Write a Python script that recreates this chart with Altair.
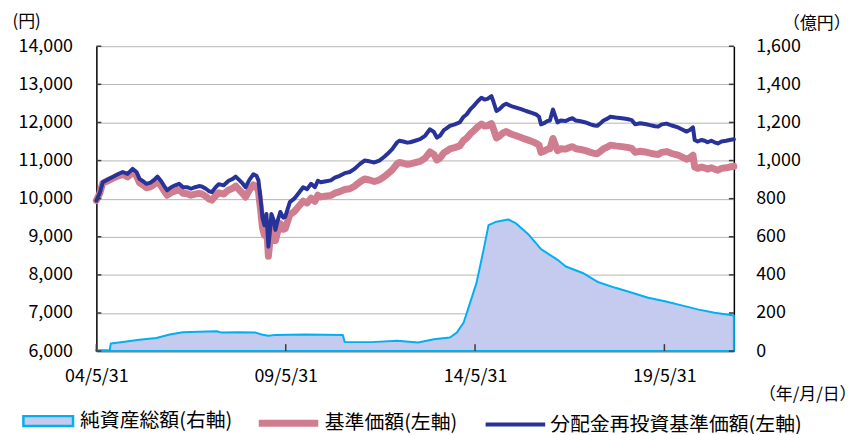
import altair as alt
import pandas as pd

# ---------------- data ----------------
series_names = ["純資産総額(右軸)", "基準価額(左軸)", "分配金再投資基準価額(左軸)"]

nav_dates = [
    "2004-05-31", "2004-07-03", "2004-08-01", "2004-09-18", "2004-11-05", "2004-12-23",
    "2005-02-09", "2005-03-28", "2005-05-15", "2005-06-22", "2005-07-20", "2005-08-28",
    "2005-09-26", "2005-11-04", "2005-12-12", "2006-01-10", "2006-02-17", "2006-03-16",
    "2006-04-14", "2006-05-22", "2006-06-30", "2006-08-07", "2006-09-15", "2006-10-23",
    "2006-11-30", "2007-01-08", "2007-02-15", "2007-03-14", "2007-04-22", "2007-05-20",
    "2007-06-18", "2007-07-26", "2007-08-24", "2007-10-11", "2007-11-28", "2008-01-06",
    "2008-02-04", "2008-03-12", "2008-04-10", "2008-05-09", "2008-06-16", "2008-07-24",
    "2008-08-22", "2008-09-10", "2008-09-30", "2008-10-19", "2008-11-07", "2008-11-26",
    "2008-12-15", "2009-01-04", "2009-01-13", "2009-02-02", "2009-02-21", "2009-03-12",
    "2009-04-09", "2009-05-07", "2009-05-26", "2009-07-10", "2009-08-21", "2009-09-28",
    "2009-11-15", "2009-12-23", "2010-01-31", "2010-03-09", "2010-04-06", "2010-05-05",
    "2010-06-12", "2010-08-09", "2010-09-16", "2010-11-03", "2010-12-21", "2011-02-08",
    "2011-03-25", "2011-05-12", "2011-06-30", "2011-08-16", "2011-10-03", "2011-11-20",
    "2012-01-07", "2012-02-05", "2012-03-23", "2012-05-10", "2012-05-30", "2012-07-07",
    "2012-08-14", "2012-09-12", "2012-10-30", "2012-12-17", "2013-02-03", "2013-03-22",
    "2013-04-29", "2013-05-28", "2013-06-26", "2013-08-03", "2013-09-01", "2013-09-30",
    "2013-11-16", "2014-01-03", "2014-02-10", "2014-03-10", "2014-04-17", "2014-05-16",
    "2014-06-24", "2014-08-01", "2014-08-30", "2014-09-28", "2014-11-05", "2014-11-24",
    "2014-12-23", "2015-01-21", "2015-02-28", "2015-03-28", "2015-05-14", "2015-07-01",
    "2015-08-18", "2015-10-05", "2015-11-22", "2016-01-09", "2016-02-07", "2016-02-26",
    "2016-03-26", "2016-04-30", "2016-05-22", "2016-06-20", "2016-07-08", "2016-08-03",
    "2016-09-04", "2016-10-22", "2016-11-20", "2016-12-25", "2017-01-27", "2017-03-14",
    "2017-05-01", "2017-06-18", "2017-07-26", "2017-08-21", "2017-09-22", "2017-10-21",
    "2017-11-28", "2017-12-27", "2018-02-13", "2018-04-17", "2018-06-06", "2018-07-21",
    "2018-08-22", "2018-10-09", "2018-11-26", "2019-01-13", "2019-03-01", "2019-04-01",
    "2019-05-06", "2019-06-21", "2019-08-10", "2019-10-10", "2019-11-14", "2019-12-30",
    "2020-01-31", "2020-03-02", "2020-03-18", "2020-04-16", "2020-05-24", "2020-06-22",
    "2020-07-20", "2020-08-25", "2020-09-26", "2020-10-28", "2020-12-02", "2021-01-16",
    "2021-02-17", "2021-03-31",
]

reinvest_nav = [
    9950, 10150, 10430, 10500, 10570, 10640,
    10700, 10650, 10780, 10700, 10520, 10450,
    10390, 10420, 10500, 10580, 10450, 10330,
    10220, 10300, 10350, 10390, 10300, 10300,
    10260, 10300, 10330, 10320, 10260, 10200,
    10170, 10300, 10380, 10350, 10470, 10520,
    10580, 10480, 10400, 10300, 10500, 10640,
    10600, 10480, 10000, 9500, 9300, 9600,
    8740, 9300, 9600, 9450, 9180, 9400,
    9650, 9500, 9520, 9910, 10000, 10130,
    10300, 10250, 10390, 10300, 10470, 10430,
    10450, 10480, 10550, 10600, 10670, 10700,
    10780, 10900, 11000, 10980, 10950, 11000,
    11100, 11170, 11300, 11480, 11520, 11500,
    11470, 11480, 11520, 11560, 11650, 11820,
    11750, 11600, 11650, 11800, 11850, 11910,
    11950, 12000, 12150, 12210, 12350, 12430,
    12550, 12650, 12600, 12620, 12690, 12550,
    12300, 12350, 12450, 12490, 12430, 12390,
    12350, 12300, 12260, 12210, 12150, 11950,
    11980, 12040, 12050, 12340, 12200, 12000,
    12050, 12040, 12080, 12110, 12050, 12030,
    12000, 11950, 11920, 11910, 11980, 12050,
    12100, 12150, 12130, 12110, 12090, 12060,
    11950, 11980, 11960, 11930, 11900, 11890,
    11950, 11970, 11920, 11870, 11820, 11760,
    11800, 11870, 11540, 11500, 11540, 11520,
    11480, 11520, 11480, 11450, 11500, 11520,
    11540, 11560,
]

nav = [
    9950, 10140, 10410, 10470, 10530, 10590,
    10640, 10570, 10690, 10600, 10420, 10350,
    10285, 10310, 10380, 10460, 10320, 10200,
    10090, 10160, 10200, 10235, 10140, 10130,
    10090, 10120, 10140, 10125, 10060, 9995,
    9960, 10080, 10155, 10120, 10230, 10270,
    10330, 10220, 10140, 10040, 10230, 10360,
    10315, 10195, 9725, 9235, 9035, 9325,
    8485, 9025, 9315, 9165, 8900, 9110,
    9345, 9195, 9210, 9580, 9660, 9780,
    9935, 9885, 10015, 9930, 10090, 10045,
    10065, 10085, 10145, 10185, 10240, 10260,
    10325, 10430, 10515, 10490, 10450, 10490,
    10580, 10640, 10755, 10915, 10950, 10930,
    10900, 10910, 10945, 10980, 11065, 11225,
    11160, 11015, 11060, 11205, 11250, 11305,
    11340, 11385, 11530, 11585, 11705, 11775,
    11880, 11960, 11905, 11915, 11970, 11835,
    11595, 11640, 11730, 11760, 11695, 11650,
    11605, 11555, 11510, 11455, 11405, 11215,
    11245, 11300, 11310, 11580, 11450, 11260,
    11310, 11300, 11335, 11365, 11310, 11290,
    11260, 11215, 11185, 11180, 11245, 11310,
    11355, 11405, 11385, 11365, 11345, 11320,
    11215, 11245, 11225, 11195, 11170, 11160,
    11215, 11235, 11185, 11140, 11095, 11035,
    11075, 11140, 10830, 10795, 10830, 10810,
    10775, 10810, 10775, 10745, 10795, 10810,
    10830, 10850,
]

asset_dates = [
    "2004-05-31", "2004-10-07", "2004-10-17", "2005-02-09", "2005-07-20", "2005-12-31",
    "2006-05-08", "2006-09-10", "2007-02-15", "2007-08-05", "2007-09-22", "2008-03-03",
    "2008-08-13", "2008-10-10", "2008-12-15", "2009-02-21", "2009-12-04", "2010-12-02",
    "2010-12-21", "2011-09-05", "2012-05-10", "2012-11-28", "2013-04-29", "2013-09-30",
    "2013-12-06", "2014-02-10", "2014-04-08", "2014-06-14", "2014-08-21", "2014-10-08",
    "2014-12-23", "2015-04-16", "2015-07-01", "2015-11-03", "2016-02-26", "2016-08-04",
    "2016-10-22", "2017-04-03", "2017-09-03", "2018-02-13", "2018-07-24", "2018-12-25",
    "2019-06-05", "2019-11-14", "2020-04-16", "2020-09-26", "2021-03-31",
]

net_assets = [
    5, 5, 40, 48, 59, 69,
    87, 99, 101, 104, 97, 99,
    97, 87, 80, 85, 87, 85,
    48, 47, 54, 45, 62, 71,
    97, 150, 245, 358, 531, 661,
    679, 691, 670, 609, 535, 479,
    444, 410, 361, 332, 306, 280,
    262, 240, 219, 201, 187,
]

x_tick_dates = ["2004-05-31", "2009-05-31", "2014-05-31", "2019-05-31"]
x_domain = ["2004-05-31", "2021-03-31"]
left_ticks = [6000, 7000, 8000, 9000, 10000, 11000, 12000, 13000, 14000]
right_ticks = [0, 200, 400, 600, 800, 1000, 1200, 1400, 1600]

# ---------------- tables ----------------
df_assets = pd.DataFrame({"date": pd.to_datetime(asset_dates), "value": net_assets,
                          "series": series_names[0]})
df_nav = pd.DataFrame({"date": pd.to_datetime(nav_dates), "value": nav,
                       "series": series_names[1]})
df_re = pd.DataFrame({"date": pd.to_datetime(nav_dates), "value": reinvest_nav,
                      "series": series_names[2]})
df_xt = pd.DataFrame({"date": pd.to_datetime(x_tick_dates)})
df_lt = pd.DataFrame({"value": left_ticks})
df_rt = pd.DataFrame({"value": right_ticks})

# ---------------- styling ----------------
W, H = 642, 307
FONT = "Noto Sans CJK JP"
PINK = "#d07d8f"
NAVY = "#28339a"
AREA_FILL = "#c5cbee"
AREA_LINE = "#00b0f0"
GRID = "#b4b4b4"
AREA_SYM = 625   # 50 x 10 px rectangle path below
LINE_SYM = 900   # 60 px line path below
LEGEND_MID = 376  # legend row centre, measured from the plot top


def dt(s):
    t = pd.Timestamp(s)
    return alt.DateTime(year=t.year, month=t.month, date=t.day)


x_scale = alt.Scale(domain=[dt(d) for d in x_domain])
x_axis = alt.Axis(
    values=[dt(d) for d in x_tick_dates], format="%y/%-m/%d",
    labelFont=FONT, labelFontSize=18, labelColor="black", labelPadding=17,
    labelFlush=False, ticks=False, tickSize=0, grid=False,
    domainColor="black", domainWidth=1.5,
    title="（年/月/日）", titleFont=FONT, titleFontSize=17, titleFontWeight="normal",
    titleColor="black", titleX=765, titleY=44, titleAlign="right",
    titleBaseline="middle",
)

left_axis = alt.Axis(
    orient="left", values=left_ticks, format=",.0f",
    labelFont=FONT, labelFontSize=18, labelColor="black", labelPadding=24,
    ticks=False, tickSize=0, grid=True, gridColor=GRID, gridWidth=1,
    domainColor="black", domainWidth=1.5,
    title="(円)", titleFont=FONT, titleFontSize=17, titleFontWeight="normal",
    titleColor="black", titleAngle=0, titleAlign="left", titleBaseline="middle",
    titleX=-85, titleY=-25,
)

right_axis = alt.Axis(
    orient="right", values=right_ticks, format=",.0f",
    labelFont=FONT, labelFontSize=18, labelColor="black", labelPadding=22,
    ticks=False, tickSize=0, grid=False,
    domainColor="black", domainWidth=1.5,
    title="（億円）", titleFont=FONT, titleFontSize=17, titleFontWeight="normal",
    titleColor="black", titleAngle=0, titleAlign="right", titleBaseline="middle",
    titleX=117, titleY=-23,
)

area_legend = alt.Legend(
    orient="none", legendX=-62.5, legendY=LEGEND_MID - AREA_SYM ** 0.5 / 2,
    title=None, padding=0,
    symbolType="M-2,-0.4L2,-0.4L2,0.4L-2,0.4Z", symbolSize=AREA_SYM,
    symbolStrokeColor=AREA_LINE, symbolStrokeWidth=2.5, symbolOpacity=1,
    labelFont=FONT, labelFontSize=20, labelColor="black", labelOffset=18,
    labelLimit=400,
)

line_legend = alt.Legend(
    orient="none", legendX=175, legendY=LEGEND_MID - LINE_SYM ** 0.5 / 2,
    title=None, padding=0,
    direction="horizontal", symbolType="M-2,0L2,0", symbolSize=LINE_SYM,
    symbolOpacity=1, symbolFillColor="transparent",
    labelFont=FONT, labelFontSize=20, labelColor="black", labelOffset=18,
    labelLimit=400, columnPadding=20,
)

line_color = alt.Scale(domain=series_names[1:], range=[PINK, NAVY])
line_width = alt.Scale(domain=series_names[1:], range=[7, 4])
left_scale = alt.Scale(domain=[6000, 14000], nice=False, zero=False)
right_scale = alt.Scale(domain=[0, 1600], nice=False)

X = alt.X("date:T", scale=x_scale, axis=x_axis)
Y_LEFT = alt.Y("value:Q", scale=left_scale, axis=left_axis)
Y_RIGHT = alt.Y("value:Q", scale=right_scale, axis=right_axis)

# ---------------- right-axis layer (net assets) ----------------
area = alt.Chart(df_assets).mark_area(
    stroke=AREA_LINE, strokeWidth=2, strokeJoin="round", interpolate="linear", opacity=1
).encode(
    x=X, y=Y_RIGHT,
    fill=alt.Fill("series:N", scale=alt.Scale(domain=[series_names[0]], range=[AREA_FILL]),
                  legend=area_legend),
)

right_ticks_rule = alt.Chart(df_rt).mark_rule(color="#3a3a3a", strokeWidth=1.5).encode(
    y=Y_RIGHT, x=alt.value(W - 5), x2=alt.value(W),
)

right_layer = alt.layer(area, right_ticks_rule)


# ---------------- left-axis layer (NAV lines) ----------------
def nav_line(df):
    return alt.Chart(df).mark_line(strokeJoin="round", strokeCap="round").encode(
        x=X, y=Y_LEFT,
        color=alt.Color("series:N", scale=line_color, legend=line_legend),
        strokeWidth=alt.StrokeWidth("series:N", scale=line_width, legend=line_legend),
    )


left_ticks_rule = alt.Chart(df_lt).mark_rule(color="#3a3a3a", strokeWidth=1.5).encode(
    y=Y_LEFT, x=alt.value(0), x2=alt.value(5),
)

x_ticks_rule = alt.Chart(df_xt).mark_rule(color="#3a3a3a", strokeWidth=1.5).encode(
    x=X, y=alt.value(H - 7), y2=alt.value(H),
)

left_layer = alt.layer(nav_line(df_nav), nav_line(df_re), left_ticks_rule, x_ticks_rule)

chart = alt.layer(right_layer, left_layer).resolve_scale(
    y="independent"
).properties(
    width=W, height=H,
    padding={"left": 89, "top": 37, "right": 123, "bottom": 82},
    autosize=alt.AutoSizeParams(type="none"),
    background="white",
).configure_view(stroke="transparent")

chart.save("out.html", embed_options={"renderer": "svg", "actions": False})
